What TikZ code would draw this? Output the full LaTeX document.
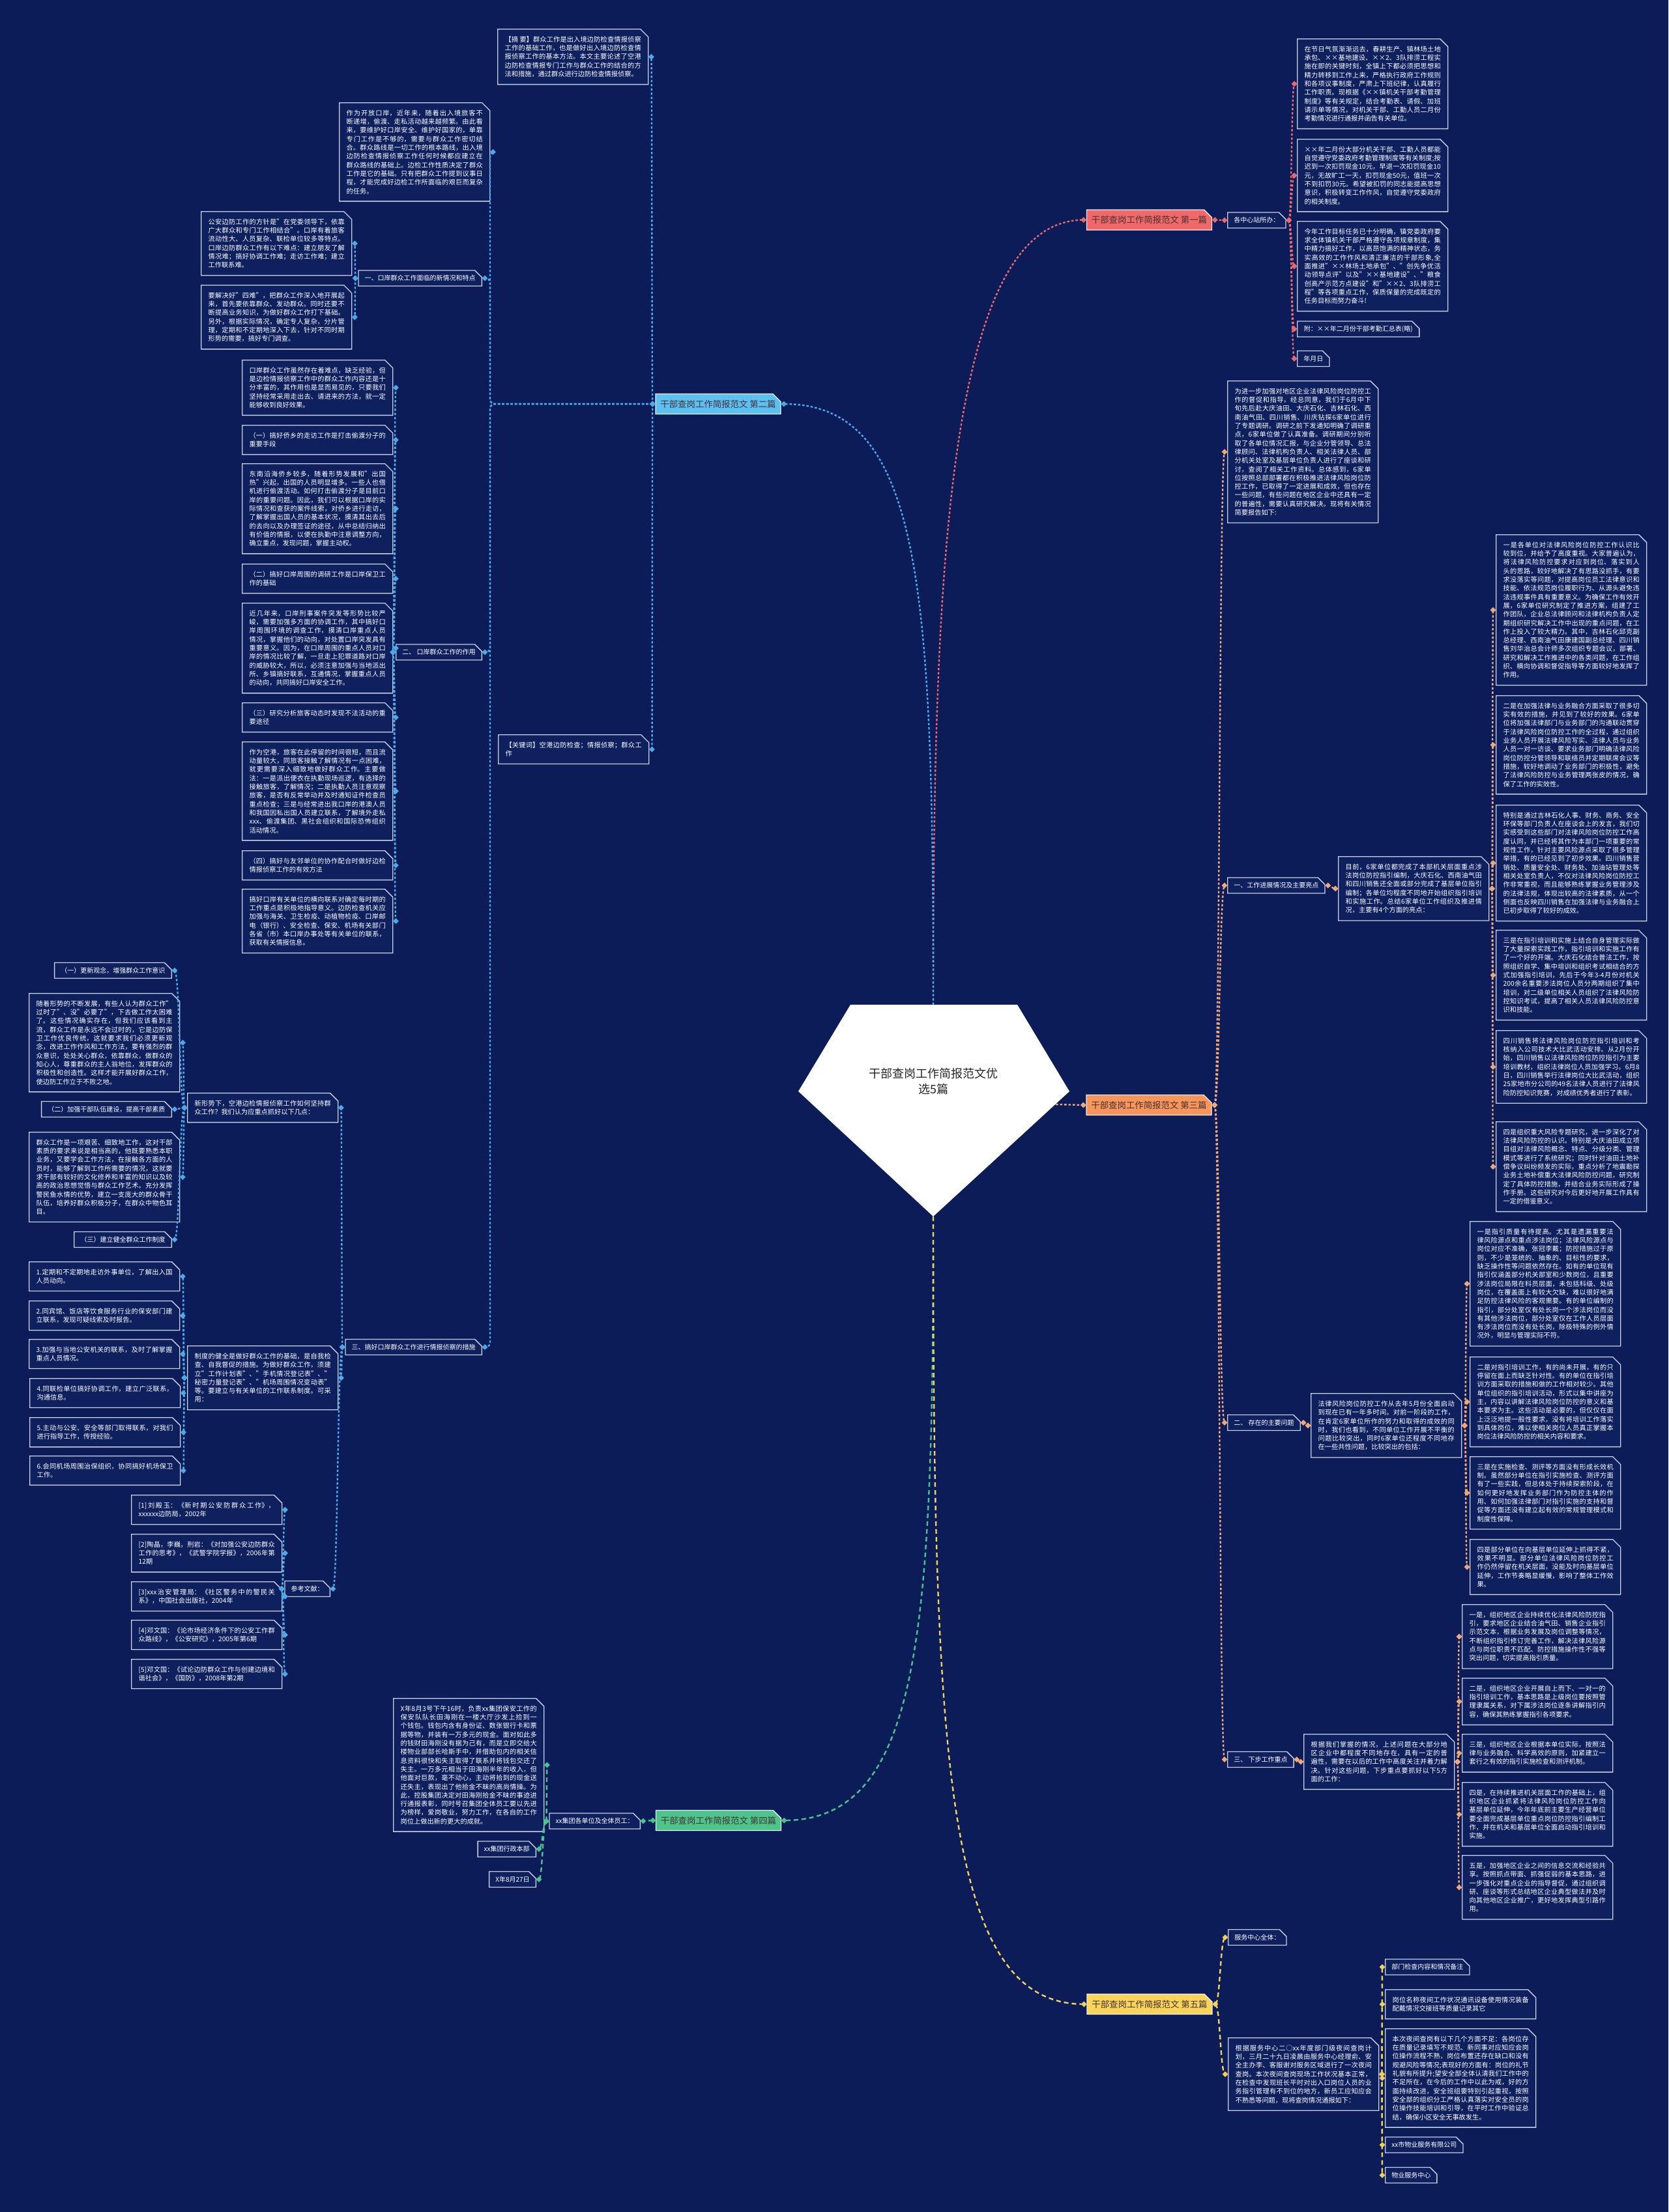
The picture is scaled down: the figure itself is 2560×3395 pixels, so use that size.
\documentclass[tikz,border=0pt]{standalone}
\usepackage{fontspec}
\setmainfont{Noto Sans CJK SC}
\usetikzlibrary{shapes.misc,shapes.geometric,calc}
\XeTeXlinebreaklocale "zh"
\XeTeXlinebreakskip=0pt plus 1.5pt
\setlength\parindent{0pt}
\definecolor{bg}{RGB}{11,28,88}
\definecolor{boxf}{RGB}{14,33,94}
\definecolor{bd}{RGB}{200,208,226}
\definecolor{txd}{RGB}{70,50,55}
\definecolor{c1}{RGB}{236,104,110}
\definecolor{f1}{RGB}{240,104,104}
\definecolor{c2}{RGB}{74,170,235}
\definecolor{f2}{RGB}{92,192,242}
\definecolor{c3}{RGB}{240,168,120}
\definecolor{f3}{RGB}{246,150,90}
\definecolor{c4}{RGB}{72,196,140}
\definecolor{f4}{RGB}{76,196,138}
\definecolor{c5}{RGB}{240,210,90}
\definecolor{f5}{RGB}{250,212,88}
\newcommand\fsz{\fontsize{10.2pt}{13.3pt}\selectfont}
\newcommand\fsl{\fontsize{10pt}{12pt}\selectfont}
\newcommand\cn[4][0.5]{%
  \draw[l#2] let \p1=(#3), \p2=(#4) in (\p1) .. controls ({(1-#1)*\x1+#1*\x2},\y1) and ({(1-#1)*\x1+#1*\x2},\y2) .. (\p2);
  \node[dm=c#2] at (#3) {};
  \node[dm=c#2] at (#4) {};
}
\newcommand\cnR[4][0.5]{\cn[#1]{#2}{[xshift=4pt]#3.east}{[xshift=-4pt]#4.west}}
\newcommand\cnL[4][0.5]{\cn[#1]{#2}{[xshift=-4pt]#3.west}{[xshift=4pt]#4.east}}
% rounded polyline connector, left side, vertical corridor at x=#4
\newcommand\cnP[4]{%
  \draw[l#1, rounded corners=7pt] let \p1=([xshift=-4pt]#2.west), \p2=([xshift=4pt]#3.east) in (\p1) -- ({#4pt},\y1) -- ({#4pt},\y2) -- (\p2);
  \node[dm=c#1] at ([xshift=-4pt]#2.west) {};
  \node[dm=c#1] at ([xshift=4pt]#3.east) {};
}
\tikzset{
 tb/.style={chamfered rectangle, chamfered rectangle corners=north east, chamfered rectangle sep=6pt, draw=bd, fill=boxf, line width=1.4pt, text=white, font=\fsz, align=justify, text width=209pt, inner xsep=5pt, inner ysep=5pt, anchor=north west},
 lb/.style={chamfered rectangle, chamfered rectangle corners=north east, chamfered rectangle sep=6pt, draw=bd, fill=boxf, line width=1.4pt, text=white, font=\fsl, inner xsep=5pt, inner ysep=0pt, minimum height=24pt},
 br/.style={chamfered rectangle, chamfered rectangle corners=north east, chamfered rectangle sep=6pt, draw=white!85!gray, fill=#1, line width=1.4pt, text=txd, font=\fontsize{13.4pt}{16pt}\selectfont, minimum width=192pt, minimum height=31pt, inner sep=0pt},
 dm/.style={diamond, fill=#1, draw=none, inner sep=0pt, minimum size=9pt},
 l1/.style={draw=c1, line width=2.4pt, dash pattern=on 3.5pt off 3pt},
 l2/.style={draw=c2, line width=2.4pt, dash pattern=on 3.5pt off 3pt},
 l3/.style={draw=c3, line width=2.4pt, dash pattern=on 3.5pt off 3pt},
 l4/.style={draw=c4, line width=2.4pt, dash pattern=on 7pt off 5pt},
 l5/.style={draw=c5, line width=2.4pt, dash pattern=on 7pt off 5pt}
}
\begin{document}
\begin{tikzpicture}[x=1pt,y=-1pt]
\fill[bg] (0,0) rectangle (2560,3395);
\useasboundingbox (0,0) rectangle (2560,3395);

% centre
\fill[white] (1305,1542) -- (1561,1542) -- (1641,1675) -- (1432,1867) -- (1225,1675) -- cycle;
\node[font=\fontsize{18pt}{24pt}\selectfont, text=black!85, align=center] (root) at (1432,1660) {干部查岗工作简报范文优\\选5篇};
\coordinate (ptop) at (1432,1542);
\coordinate (pbot) at (1432,1867);
\coordinate (pright) at (1620,1695);

% ===== branch 1 =====
\node[br=f1] (B1) at (1763.5,337.5) {干部查岗工作简报范文 第一篇};
\node[lb,anchor=west] (b1h) at (1883,338) {各中心站所办：};
\node[tb] (b1a) at (1990,59) {在节日气氛渐渐远去，春耕生产、镇林场土地承包、××基地建设、××2、3队排涝工程实施在即的关键时刻，全镇上下都必须把思想和精力转移到工作上来，严格执行政府工作规则和各项议事制度，严肃上下班纪律，认真履行工作职责。现根据《××镇机关干部考勤管理制度》等有关规定，结合考勤表、请假、加班请示单等情况，对机关干部、工勤人员二月份考勤情况进行通报并函告有关单位。};
\node[tb] (b1b) at (1990,213) {××年二月份大部分机关干部、工勤人员都能自觉遵守党委政府考勤管理制度等有关制度;按迟到一次扣罚现金10元，早退一次扣罚现金10元，无故旷工一天，扣罚现金50元，值班一次不到扣罚30元。希望被扣罚的同志能提高思想意识，积极转变工作作风，自觉遵守党委政府的相关制度。};
\node[tb] (b1c) at (1990,339) {今年工作目标任务已十分明确，镇党委政府要求全体镇机关干部严格遵守各项规章制度，集中精力搞好工作，以高昂饱满的精神状态，务实高效的工作作风和清正廉洁的干部形象,全面推进"××林场土地承包"、"创先争优活动领导点评"以及"××基地建设"、"粮食创高产示范方点建设"和"××2、3队排涝工程"等各项重点工作，保质保量的完成既定的任务目标而努力奋斗!};
\node[lb,anchor=west] (b1d) at (1990,505) {附：××年二月份干部考勤汇总表(略)};
\node[lb,anchor=west] (b1e) at (1990,550.5) {年月日};

% ===== branch 2 =====
\node[br=f2] (B2) at (1102,620) {干部查岗工作简报范文 第二篇};
\node[tb] (a1) at (763,44) {【摘 要】群众工作是出入境边防检查情报侦察工作的基础工作，也是做好出入境边防检查情报侦察工作的基本方法。本文主要论述了空港边防检查情报专门工作与群众工作的结合的方法和措施，通过群众进行边防检查情报侦察。};
\node[tb] (a2) at (520,157) {作为开放口岸，近年来，随着出入境旅客不断递增，偷渡、走私活动越来越频繁。由此看来，要维护好口岸安全、维护好国家的，单靠专门工作是不够的，需要与群众工作密切结合。群众路线是一切工作的根本路线，出入境边防检查情报侦察工作任何时候都应建立在群众路线的基础上。边检工作性质决定了群众工作是它的基础。只有把群众工作提到议事日程，才能完成好边检工作所面临的艰巨而复杂的任务。};
\node[lb,anchor=east] (a3) at (740,427) {一、口岸群众工作面临的新情况和特点};
\node[tb] (a31) at (308,324) {公安边防工作的方针是"在党委领导下，依靠广大群众和专门工作相结合"。口岸有着旅客流动性大、人员复杂、联检单位较多等特点。口岸边防群众工作有以下难点：建立朋友了解情况难；搞好协调工作难；走访工作难；建立工作联系难。};
\node[tb] (a32) at (308,437) {要解决好"四难"，把群众工作深入地开展起来，首先要依靠群众、发动群众。同时还要不断提高业务知识，为做好群众工作打下基础。另外，根据实际情况，确定专人复杂，分片管理，定期和不定期地深入下去，针对不同时期形势的需要，搞好专门调查。};
\node[lb,anchor=east] (a4) at (740,1001) {二、\ 口岸群众工作的作用};
\node[tb] (a41) at (371,552) {口岸群众工作虽然存在着难点，缺乏经验，但是边检情报侦察工作中的群众工作内容还是十分丰富的，其作用也是显而易见的，只要我们坚持经常采用走出去、请进来的方法，就一定能够收到良好效果。};
\node[tb] (a42) at (371,652) {（一）搞好侨乡的走访工作是打击偷渡分子的重要手段};
\node[tb] (a43) at (371,711) {东南沿海侨乡较多，随着形势发展和"出国热"兴起，出国的人员明显增多。一些人也借机进行偷渡活动。如何打击偷渡分子是目前口岸的重要问题。因此，我们可以根据口岸的实际情况和查获的案件线索，对侨乡进行走访，了解掌握出国人员的基本状况，摸清其出去后的去向以及办理签证的途径，从中总结归纳出有价值的情报，以便在执勤中注意调整方向，确立重点，发现问题，掌握主动权。};
\node[tb] (a44) at (371,865) {（二）搞好口岸周围的调研工作是口岸保卫工作的基础};
\node[tb] (a45) at (371,925) {近几年来，口岸刑事案件突发等形势比较严峻，需要加强多方面的协调工作，其中搞好口岸周围环境的调查工作，摸清口岸重点人员情况，掌握他们的动向，对处置口岸突发具有重要意义。因为，在口岸周围的重点人员对口岸的情况比较了解，一旦走上犯罪道路对口岸的威胁较大，所以，必须注意加强与当地派出所、乡镇搞好联系，互通情况，掌握重点人员的动向，共同搞好口岸安全工作。};
\node[tb] (a46) at (371,1078) {（三）研究分析旅客动态时发现不法活动的重要途径};
\node[tb] (a47) at (371,1138) {作为空港，旅客在此停留的时间很短，而且流动量较大，同旅客接触了解情况有一点困难，就更需要深入细致地做好群众工作。主要做法：一是派出便衣在执勤现场巡逻，有选择的接触旅客，了解情况；二是执勤人员注意观察旅客，是否有反常举动并及时通知证件检查员重点检查；三是与经常进出我口岸的港澳人员和我国因私出国人员建立联系，了解境外走私xxx、偷渡集团、黑社会组织和国际恐怖组织活动情况。};
\node[tb] (a48) at (371,1305) {（四）搞好与友邻单位的协作配合时做好边检情报侦察工作的有效方法};
\node[tb] (a49) at (371,1364) {搞好口岸有关单位的横向联系对确定每时期的工作重点是积极地指导意义。边防检查机关应加强与海关、卫生检疫、动植物检疫、口岸邮电（银行）、安全检查、保安、机场有关部门各省（市）本口岸办事处等有关单位的联系，获取有关情报信息。};
\node[tb] (a6) at (764,1127) {【关键词】空港边防检查；情报侦察；群众工作};
\node[lb,anchor=east] (a5) at (740,2067.5) {三、搞好口岸群众工作进行情报侦察的措施};
\node[tb] (a51) at (287,1677) {新形势下，空港边检情报侦察工作如何坚持群众工作？我们认为应重点抓好以下几点：};
\node[lb,anchor=east] (a511) at (264,1489.5) {（一）更新观念，增强群众工作意识};
\node[tb] (a512) at (44,1524) {随着形势的不断发展，有些人认为群众工作"过时了"、没"必要了"，下去做工作太困难了。这些情况确实存在，但我们应该看到主流，群众工作是永远不会过时的，它是边防保卫工作优良传统，这就要求我们必须更新观念，改进工作作风和工作方法，要有强烈的群众意识，处处关心群众，依靠群众，做群众的知心人，尊重群众的主人翁地位，发挥群众的积极性和创造性。这样才能开展好群众工作，使边防工作立于不败之地。};
\node[lb,anchor=east] (a513) at (264,1702.5) {（二）加强干部队伍建设，提高干部素质};
\node[tb] (a514) at (44,1737) {群众工作是一项艰苦、细致地工作，这对干部素质的要求来说是相当高的，他既要熟悉本职业务，又要学会工作方法，在接触各方面的人员时，能够了解到工作所需要的情况，这就要求干部有较好的文化修养和丰富的知识以及较高的政治思想觉悟与群众工作艺术。充分发挥警民鱼水情的优势，建立一支庞大的群众骨干队伍，培养好群众积极分子，在群众中物色耳目。};
\node[lb,anchor=east] (a515) at (264,1902.5) {（三）建立健全群众工作制度};
\node[tb] (a52) at (287,2065) {制度的健全是做好群众工作的基础，是自我检查、自我督促的措施。为做好群众工作，须建立"工作计划表"、"手机情况登记表"、"秘密力量登记表"、"机场周围情况变动表"等。要建立与有关单位的工作联系制度。可采用：};
\node[tb] (a521) at (44,1936) {1.定期和不定期地走访外事单位，了解出入国人员动向。};
\node[tb] (a522) at (44,1996) {2.同宾馆、饭店等饮食服务行业的保安部门建立联系，发现可疑线索及时报告。};
\node[tb] (a523) at (44,2055) {3.加强与当地公安机关的联系，及时了解掌握重点人员情况。};
\node[tb] (a524) at (45,2115) {4.同联检单位搞好协调工作，建立广泛联系，沟通信息。};
\node[tb] (a525) at (45,2175) {5.主动与公安、安全等部门取得联系，对我们进行指导工作，传授经验。};
\node[tb] (a526) at (45,2234) {6.会同机场周围治保组织，协同搞好机场保卫工作。};
\node[lb,anchor=east] (a53) at (507,2438.5) {参考文献：};
\node[tb] (a531) at (201,2294) {[1]刘殿玉：《新时期公安防群众工作》，xxxxxx边防局，2002年};
\node[tb] (a532) at (201,2354) {[2]陶晶，李巍，刑岩：《对加强公安边防群众工作的思考》，《武警学院学报》，2006年第12期};
\node[tb] (a533) at (201,2427) {[3]xxx治安管理局：《社区警务中的警民关系》，中国社会出版社，2004年};
\node[tb] (a534) at (201,2486) {[4]邓文国：《论市场经济条件下的公安工作群众路线》，《公安研究》，2005年第6期};
\node[tb] (a535) at (201,2546) {[5]邓文国：《试论边防群众工作与创建边境和谐社会》，《国防》，2008年第2期};

% ===== branch 3 =====
\node[br=f3] (B3) at (1763,1696) {干部查岗工作简报范文 第三篇};
\node[tb] (t1) at (1883,584) {为进一步加强对地区企业法律风险岗位防控工作的督促和指导，经总同意，我们于6月中下旬先后赴大庆油田、大庆石化、吉林石化、西南油气田、四川销售、川庆钻探6家单位进行了专题调研。调研之前下发通知明确了调研重点，6家单位做了认真准备。调研期间分别听取了各单位情况汇报，与企业分管领导、总法律顾问、法律机构负责人、相关法律人员、部分机关处室及基层单位负责人进行了座谈和研讨，查阅了相关工作资料。总体感到，6家单位按照总部部署都在积极推进法律风险岗位防控工作，已取得了一定进展和成效，但也存在一些问题，有些问题在地区企业中还具有一定的普遍性，需要认真研究解决。现将有关情况简要报告如下:};
\node[lb,anchor=west] (t2) at (1883,1359) {一、工作进展情况及主要亮点};
\node[tb] (t21) at (2053,1314) {目前，6家单位都完成了本部机关层面重点涉法岗位防控指引编制，大庆石化、西南油气田和四川销售还全面或部分完成了基层单位指引编制；各单位均程度不同地开始组织指引培训和实施工作。总结6家单位工作组织及推进情况，主要有4个方面的亮点：};
\node[tb] (t211) at (2295,820) {一是各单位对法律风险岗位防控工作认识比较到位，并给予了高度重视。大家普遍认为，将法律风险防控要求对应到岗位、落实到人头的思路，较好地解决了有思路没抓手，有要求没落实等问题，对提高岗位员工法律意识和技能、依法规范岗位履职行为、从源头避免违法违规事件具有重要意义。为确保工作有效开展，6家单位研究制定了推进方案，组建了工作团队，企业总法律顾问和法律机构负责人定期组织研究解决工作中出现的重点问题，在工作上投入了较大精力。其中，吉林石化邱克副总经理、西南油气田康建国副总经理、四川销售刘华治总会计师多次组织专题会议，部署、研究和解决工作推进中的各类问题，在工作组织、横向协调和督促指导等方面较好地发挥了作用。};
\node[tb] (t212) at (2295,1067) {二是在加强法律与业务融合方面采取了很多切实有效的措施，并见到了较好的效果。6家单位将加强法律部门与业务部门的沟通联动贯穿于法律风险岗位防控工作的全过程，通过组织业务人员开展法律风险写实、法律人员与业务人员一对一访谈、要求业务部门明确法律风险岗位防控分管领导和联络员并定期联席会议等措施，较好地调动了业务部门的积极性，避免了法律风险防控与业务管理两张皮的情况，确保了工作的实效性。};
\node[tb] (t213) at (2295,1235) {特别是通过吉林石化人事、财务、商务、安全环保等部门负责人在座谈会上的发言，我们切实感受到这些部门对法律风险岗位防控工作高度认同，并已经将其作为本部门一项重要的常规性工作，针对主要风险源点采取了很多管理举措，有的已经见到了初步效果。四川销售营销处、质量安全处、财务处、加油站管理处等相关处室负责人，不仅对法律风险岗位防控工作非常重视，而且能够熟练掌握业务管理涉及的法律法规，体现出较高的法律素质，从一个侧面也反映四川销售在加强法律与业务融合上已初步取得了较好的成效。};
\node[tb] (t214) at (2295,1427) {三是在指引培训和实施上结合自身管理实际做了大量探索实践工作，指引培训和实施工作有了一个好的开端。大庆石化结合普法工作，按照组织自学、集中培训和组织考试相结合的方式加强指引培训，先后于今年3-4月份对机关200余名重要涉法岗位人员分两期组织了集中培训，对二级单位相关人员组织了法律风险防控知识考试，提高了相关人员法律风险防控意识和技能。};
\node[tb] (t215) at (2295,1581) {四川销售将法律风险岗位防控指引培训和考核纳入公司技术大比武活动安排。从2月份开始，四川销售以法律风险岗位防控指引为主要培训教材，组织法律岗位人员加强学习。6月8日，四川销售举行法律岗位大比武活动，组织25家地市分公司的49名法律人员进行了法律风险防控知识竞赛，对成绩优秀者进行了表彰。};
\node[tb] (t216) at (2295,1721) {四是组织重大风险专题研究，进一步深化了对法律风险防控的认识。特别是大庆油田成立项目组对法律风险概念、特点、分级分类、管理模式等进行了系统研究；同时针对油田土地补偿争议纠纷频发的实际，重点分析了地震勘探业务土地补偿重大法律风险防控问题，研究制定了具体防控措施，并结合业务实际形成了操作手册。这些研究对今后更好地开展工作具有一定的借鉴意义。};
\node[lb,anchor=west] (t3) at (1883,2183.5) {二、\ 存在的主要问题};
\node[tb] (t31) at (2011,2138) {法律风险岗位防控工作从去年5月份全面启动到现在已有一年多时间。对前一阶段的工作，在肯定6家单位所作的努力和取得的成效的同时，我们也看到，不同单位工作开展不平衡的问题比较突出，同时6家单位还程度不同地存在一些共性问题，比较突出的包括：};
\node[tb] (t311) at (2255,1874) {一是指引质量有待提高。尤其是遗漏重要法律风险源点和重点涉法岗位；法律风险源点与岗位对应不准确，张冠李戴；防控措施过于原则，不少是笼统的、抽象的、目标性的要求，缺乏操作性等问题依然存在。如有的单位现有指引仅涵盖部分机关部室和少数岗位，且重要涉法岗位局限在科员层面，未包括科级、处级岗位，在覆盖面上有较大欠缺，难以很好地满足防控法律风险的客观需要。有的单位编制的指引，部分处室仅有处长岗一个涉法岗位而没有其他涉法岗位，部分处室仅在工作人员层面有涉法岗位而没有处长岗，除极特殊的例外情况外，明显与管理实际不符。};
\node[tb] (t312) at (2255,2082) {二是对指引培训工作，有的尚未开展，有的只停留在面上而缺乏针对性。有的单位在指引培训方面采取的措施和做的工作相对较少。其他单位组织的指引培训活动，形式以集中讲座为主，内容以讲解法律风险岗位防控的意义和基本要求为主。这些活动是必要的，但仅仅在面上泛泛地提一般性要求，没有将培训工作落实到具体岗位，难以使相关岗位人员真正掌握本岗位法律风险防控的相关内容和要求。};
\node[tb] (t313) at (2255,2235) {三是在实施检查、测评等方面没有形成长效机制。虽然部分单位在指引实施检查、测评方面有了一些实践，但总体处于持续探索阶段，在如何更好地发挥业务部门作为防控主体的作用、如何加强法律部门对指引实施的支持和督促等方面还没有建立起有效的常规管理模式和制度性保障。};
\node[tb] (t314) at (2255,2362) {四是部分单位在向基层单位延伸上抓得不紧，效果不明显。部分单位法律风险岗位防控工作仍然停留在机关层面，没能及时向基层单位延伸，工作节奏略显缓慢，影响了整体工作效果。};
\node[lb,anchor=west] (t4) at (1883,2700.5) {三、\ 下步工作重点};
\node[tb] (t41) at (2000,2661) {根据我们掌握的情况，上述问题在大部分地区企业中都程度不同地存在，具有一定的普遍性，需要在以后的工作中高度关注并着力解决。针对这些问题，下步重点要抓好以下5方面的工作：};
\node[tb] (t411) at (2243,2462) {一是，组织地区企业持续优化法律风险防控指引，要求地区企业结合油气田、销售企业指引示范文本，根据业务发展及岗位调整等情况，不断组织指引修订完善工作，解决法律风险源点与岗位职责不匹配、防控措施操作性不强等突出问题，切实提高指引质量。};
\node[tb] (t412) at (2243,2575) {二是，组织地区企业开展自上而下、一对一的指引培训工作，基本思路是上级岗位要按照管理隶属关系，对下属涉法岗位逐条讲解指引内容，确保其熟练掌握指引各项要求。};
\node[tb] (t413) at (2243,2661) {三是，组织地区企业根据本单位实际，按照法律与业务融合、科学高效的原则，加紧建立一套行之有效的指引实施检查和测评机制。};
\node[tb] (t414) at (2243,2735) {四是，在持续推进机关层面工作的基础上，组织地区企业抓紧将法律风险岗位防控工作向基层单位延伸，今年年底前主要生产经营单位要全面完成基层单位重点岗位防控指引编制工作，并在机关和基层单位全面启动指引培训和实施。};
\node[tb] (t415) at (2243,2847) {五是，加强地区企业之间的信息交流和经验共享。按照抓点带面、抓强促弱的基本思路，进一步强化对重点企业的指导督促，通过组织调研、座谈等形式总结地区企业典型做法并及时向其他地区企业推广，更好地发挥典型引路作用。};

% ===== branch 4 =====
\node[br=f4] (B4) at (1102.5,2794) {干部查岗工作简报范文 第四篇};
\node[lb,anchor=east] (d1) at (983,2795) {xx集团各单位及全体员工：};
\node[tb] (d11) at (603,2606) {X年8月3号下午16时，负责xx集团保安工作的保安队队长田海刚在一楼大厅沙发上捡到一个钱包。钱包内含有身份证、数张银行卡和票据等物，并装有一万多元的现金。面对如此多的钱财田海刚没有据为己有，而是立即交给大楼物业部部长哈斯手中，并借助包内的相关信息资料很快和失主取得了联系并将钱包交还了失主。一万多元相当于田海刚半年的收入，但他面对巨款，毫不动心，主动将拾到的现金送还失主，表现出了他拾金不昧的高尚情操。为此，控股集团决定对田海刚拾金不昧的事迹进行通报表彰，同时号召集团全体员工要以先进为榜样，爱岗敬业，努力工作，在各自的工作岗位上做出新的更大的成就。};
\node[lb,anchor=east] (d12) at (823,2838) {xx集团行政本部};
\node[lb,anchor=east] (d13) at (823,2884.5) {X年8月27日};

% ===== branch 5 =====
\node[br=f5] (B5) at (1764,3076) {干部查岗工作简报范文 第五篇};
\node[lb,anchor=west] (e1) at (1884,2973.5) {服务中心全体：};
\node[tb] (e2) at (1884,3127) {根据服务中心二○xx年度部门级夜间查岗计划，三月二十九日凌晨由服务中心经理俞、安全主办李、客服谢对服务区域进行了一次夜间查岗。本次夜间查岗现场工作状况基本正常，在检查中发现班长平时对出入口岗位人员的业务指引管理有不到位的地方，新员工应知应会不熟悉等问题，现将查岗情况通报如下：};
\node[lb,anchor=west] (e21) at (2125,3019) {部门检查内容和情况备注};
\node[tb] (e22) at (2125,3053) {岗位名称夜间工作状况通讯设备使用情况装备配戴情况交接班等质量记录其它};
\node[tb] (e23) at (2125,3113) {本次夜间查岗有以下几个方面不足：各岗位存在质量记录填写不规范、新同事对应知应会岗位操作流程不熟，岗位布置还存在缺口和没有规避风险等情况;表现好的方面有：岗位的礼节礼貌有所提升;望安全部全体认清我们工作中的不足所在，在今后的工作中以此为戒，好的方面持续改进，安全班组要特别引起重视，按照安全部的组织分工严格认真落实对安全员的岗位操作技能培训和引导，在平时工作中验证总结，确保小区安全无事故发生。};
\node[lb,anchor=west] (e24) at (2125,3292) {xx市物业服务有限公司};
\node[lb,anchor=west] (e25) at (2125,3338.5) {物业服务中心};

% ===== connectors: centre to branches =====
\draw[l1] (ptop) .. controls (1432,900) and (1450,337.5) .. ([xshift=-4pt]B1.west);
\node[dm=c1] at ([xshift=-4pt]B1.west) {};
\draw[l2] (ptop) .. controls (1432,900) and (1414,620) .. ([xshift=4pt]B2.east);
\node[dm=c2] at ([xshift=4pt]B2.east) {};
\draw[l3] (pright) -- ([xshift=-4pt]B3.west);
\node[dm=c3] at ([xshift=-4pt]B3.west) {};
\draw[l4] (pbot) .. controls (1432,2500) and (1414,2794) .. ([xshift=4pt]B4.east);
\node[dm=c4] at ([xshift=4pt]B4.east) {};
\draw[l5] (pbot) .. controls (1432,2700) and (1450,3076) .. ([xshift=-4pt]B5.west);
\node[dm=c5] at ([xshift=-4pt]B5.west) {};

% branch 1
\cnR{1}{B1}{b1h}
\foreach \c in {b1a,b1b,b1c,b1d,b1e} {\cnR{1}{b1h}{\c}}
% branch 2
\cnL{2}{B2}{a1}
\cnL{2}{B2}{a6}
\cnP{2}{B2}{a2}{752}
\cnP{2}{B2}{a3}{752}
\cnP{2}{B2}{a4}{752}
\cnP{2}{B2}{a5}{752}
\foreach \c in {a31,a32} {\cnL{2}{a3}{\c}}
\foreach \c in {a41,a42,a43,a44,a45,a46,a47,a48,a49} {\cnL{2}{a4}{\c}}
\foreach \c in {a51,a52,a53} {\cnL{2}{a5}{\c}}
\foreach \c in {a511,a512,a513,a514,a515} {\cnL{2}{a51}{\c}}
\foreach \c in {a521,a522,a523,a524,a525,a526} {\cnL{2}{a52}{\c}}
\foreach \c in {a531,a532,a533,a534,a535} {\cnL{2}{a53}{\c}}
% branch 3
\foreach \c in {t1,t2,t3,t4} {\cnR{3}{B3}{\c}}
\cnR{3}{t2}{t21}
\foreach \c in {t211,t212,t213,t214,t215,t216} {\cnR{3}{t21}{\c}}
\cnR{3}{t3}{t31}
\foreach \c in {t311,t312,t313,t314} {\cnR{3}{t31}{\c}}
\cnR{3}{t4}{t41}
\foreach \c in {t411,t412,t413,t414,t415} {\cnR{3}{t41}{\c}}
% branch 4
\cnL{4}{B4}{d1}
\foreach \c in {d11,d12,d13} {\cnL{4}{d1}{\c}}
% branch 5
\cnR{5}{B5}{e1}
\cnR{5}{B5}{e2}
\foreach \c in {e21,e22,e23,e24,e25} {\cnR{5}{e2}{\c}}
\end{tikzpicture}
\end{document}
